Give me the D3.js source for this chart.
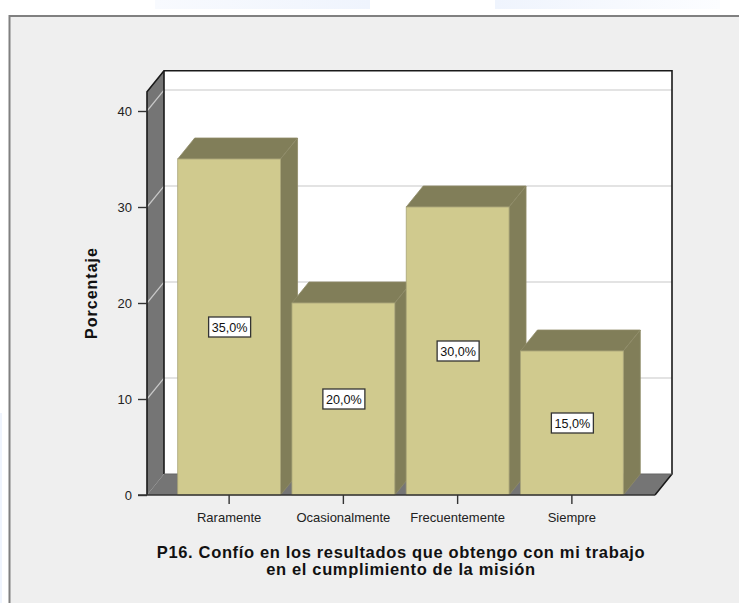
<!DOCTYPE html>
<html>
<head>
<meta charset="utf-8">
<script src="https://cdnjs.cloudflare.com/ajax/libs/d3/7.8.5/d3.min.js"></script>
<style>
  html, body { margin: 0; padding: 0; background: #fff; }
  svg { display: block; }
  text { font-family: "Liberation Sans", Arial, sans-serif; }
</style>
</head>
<body>
<svg id="chart"></svg>
<script>
var categories = ['Raramente', 'Ocasionalmente', 'Frecuentemente', 'Siempre'];
var percentages = [35, 20, 30, 15];
var yTicks = [0, 10, 20, 30, 40];
var yLabel = 'Porcentaje';
var xTitle = ['P16. Confío en los resultados que obtengo con mi trabajo', 'en el cumplimiento de la misión'];

var svgWidth = 739, svgHeight = 603;

// front plane of the 3D box, depth is how far the back wall shifts
var plotLeft = 147, plotRight = 655, plotBottom = 495;
var depthX = 17, depthY = -21;
var topValue = 42;

var svg = d3.select('#chart')
  .attr('width', svgWidth)
  .attr('height', svgHeight);

var y = d3.scaleLinear().domain([0, 40]).range([plotBottom, 111]);
var x = d3.scaleBand()
  .domain(categories)
  .range([172, 629])
  .paddingInner(0.1)
  .paddingOuter(0.05);

var pts = a => a.map(p => p.join(',')).join(' ');

// pale bands left over above and beside the panel
var defs = svg.append('defs');
var fade = defs.append('linearGradient').attr('id', 'fade');
fade.append('stop').attr('offset', '0%').attr('stop-color', '#f8fafe');
fade.append('stop').attr('offset', '100%').attr('stop-color', '#eff4fd');
var fadeBack = defs.append('linearGradient').attr('id', 'fadeBack');
fadeBack.append('stop').attr('offset', '0%').attr('stop-color', '#eff4fd');
fadeBack.append('stop').attr('offset', '100%').attr('stop-color', '#fcfdff');
svg.append('rect').attr('x', 155).attr('y', 0).attr('width', 215).attr('height', 9).attr('fill', 'url(#fade)');
svg.append('rect').attr('x', 495).attr('y', 0).attr('width', 225).attr('height', 9).attr('fill', 'url(#fadeBack)');
svg.append('rect').attr('x', 0).attr('y', 413).attr('width', 2).attr('height', 190).attr('fill', '#eff4fd');

// panel
svg.append('rect')
  .attr('x', 9).attr('y', 16)
  .attr('width', svgWidth - 9).attr('height', svgHeight - 16)
  .attr('fill', '#efefef');
svg.append('path')
  .attr('d', `M9.5,${svgHeight}V16H${svgWidth}`)
  .attr('fill', 'none')
  .attr('stroke', '#808080')
  .attr('stroke-width', 2);

var topY = y(topValue);

// back wall
svg.append('rect')
  .attr('x', plotLeft + depthX).attr('y', topY + depthY)
  .attr('width', plotRight - plotLeft)
  .attr('height', plotBottom - topY)
  .attr('fill', '#fff');

// side wall and floor
svg.append('polygon')
  .attr('points', pts([[plotLeft, topY], [plotLeft + depthX, topY + depthY], [plotLeft + depthX, plotBottom + depthY], [plotLeft, plotBottom]]))
  .attr('fill', '#757575');
svg.append('polygon')
  .attr('points', pts([[plotLeft, plotBottom], [plotLeft + depthX, plotBottom + depthY], [plotRight + depthX, plotBottom + depthY], [plotRight, plotBottom]]))
  .attr('fill', '#757575');

// grid lines run across the side wall, then the back wall
svg.selectAll('.grid')
  .data(yTicks.slice(1))
  .enter()
  .append('polyline')
  .attr('class', 'grid')
  .attr('points', d => pts([[plotLeft, y(d)], [plotLeft + depthX, y(d) + depthY], [plotRight + depthX, y(d) + depthY]]))
  .attr('fill', 'none')
  .attr('stroke', '#c8c8c8')
  .attr('stroke-width', 1.2);

// box outline
svg.append('path')
  .attr('d', `M${plotLeft},${plotBottom}V${topY}L${plotLeft + depthX},${topY + depthY}H${plotRight + depthX}V${plotBottom + depthY}L${plotRight},${plotBottom}`)
  .attr('fill', 'none')
  .attr('stroke', '#1a1a1a')
  .attr('stroke-width', 1.6);
svg.append('line')
  .attr('x1', plotLeft + depthX).attr('x2', plotLeft + depthX)
  .attr('y1', topY + depthY).attr('y2', plotBottom + depthY)
  .attr('stroke', '#1a1a1a')
  .attr('stroke-width', 1.6);
svg.append('line')
  .attr('x1', plotLeft + depthX).attr('x2', plotRight + depthX)
  .attr('y1', plotBottom + depthY).attr('y2', plotBottom + depthY)
  .attr('stroke', '#666')
  .attr('stroke-width', 1);

// bars, each one a top face, side face and front face
var bars = svg.selectAll('.bar')
  .data(categories)
  .enter()
  .append('g')
  .attr('class', 'bar');

var barDepthX = 17, barDepthY = -21;

bars.append('polygon')
  .attr('points', (d, i) => {
    var l = x(d), r = l + x.bandwidth(), t = y(percentages[i]);
    return pts([[l, t], [l + barDepthX, t + barDepthY], [r + barDepthX, t + barDepthY], [r, t]]);
  })
  .attr('fill', '#817e59')
  .attr('stroke', '#8f8c68')
  .attr('stroke-width', 0.8);

bars.append('polygon')
  .attr('points', (d, i) => {
    var r = x(d) + x.bandwidth(), t = y(percentages[i]);
    return pts([[r, t], [r + barDepthX, t + barDepthY], [r + barDepthX, plotBottom + barDepthY], [r, plotBottom]]);
  })
  .attr('fill', '#817e59')
  .attr('stroke', '#8f8c68')
  .attr('stroke-width', 0.8);

bars.append('rect')
  .attr('x', d => x(d))
  .attr('y', (d, i) => y(percentages[i]))
  .attr('width', x.bandwidth())
  .attr('height', (d, i) => plotBottom - y(percentages[i]))
  .attr('fill', '#d0ca8e')
  .attr('stroke', '#a8a478')
  .attr('stroke-width', 0.8);

// value boxes in the middle of each bar
var boxW = 42, boxH = 20;
bars.append('rect')
  .attr('x', d => x(d) + x.bandwidth() / 2 - boxW / 2 + 0.5)
  .attr('y', (d, i) => y(percentages[i] / 2) - boxH / 2)
  .attr('width', boxW)
  .attr('height', boxH)
  .attr('fill', '#fff')
  .attr('stroke', '#333')
  .attr('stroke-width', 1.3);

bars.append('text')
  .attr('x', d => x(d) + x.bandwidth() / 2 + 0.5)
  .attr('y', (d, i) => y(percentages[i] / 2) + 4.5)
  .attr('text-anchor', 'middle')
  .attr('font-size', 12.6)
  .attr('fill', '#111')
  .text((d, i) => percentages[i].toFixed(1).replace('.', ',') + '%');

// axes
var yAxis = svg.append('g')
  .attr('transform', `translate(${plotLeft},0)`)
  .call(d3.axisLeft(y).tickValues(yTicks).tickSize(9).tickPadding(6).tickFormat(d3.format('d')));
yAxis.select('.domain').remove();
yAxis.selectAll('.tick line').attr('stroke', '#333').attr('stroke-width', 1.4);
yAxis.selectAll('.tick text')
  .attr('font-size', 13)
  .attr('font-family', '"Liberation Sans", Arial, sans-serif')
  .attr('fill', '#222');

var xAxis = svg.append('g')
  .attr('transform', `translate(0,${plotBottom})`)
  .call(d3.axisBottom(x).tickSize(9).tickPadding(9));
xAxis.select('.domain').remove();
xAxis.selectAll('.tick line').attr('stroke', '#333').attr('stroke-width', 1.4);
xAxis.selectAll('.tick text')
  .attr('font-size', 13)
  .attr('font-family', '"Liberation Sans", Arial, sans-serif')
  .attr('fill', '#222');

svg.append('line')
  .attr('x1', plotLeft - 9).attr('x2', plotRight)
  .attr('y1', plotBottom).attr('y2', plotBottom)
  .attr('stroke', '#333')
  .attr('stroke-width', 1.4);

// axis titles
svg.append('text')
  .attr('transform', 'translate(97,293) rotate(-90)')
  .attr('text-anchor', 'middle')
  .attr('font-size', 16)
  .attr('letter-spacing', 1)
  .attr('font-weight', 'bold')
  .attr('fill', '#111')
  .text(yLabel);

svg.selectAll('.x-title')
  .data(xTitle)
  .enter()
  .append('text')
  .attr('class', 'x-title')
  .attr('x', 401)
  .attr('y', (d, i) => 558 + i * 17)
  .attr('text-anchor', 'middle')
  .attr('font-size', 16.5)
  .attr('letter-spacing', 0.65)
  .attr('font-weight', 'bold')
  .attr('fill', '#111')
  .text(d => d);
</script>
</body>
</html>
